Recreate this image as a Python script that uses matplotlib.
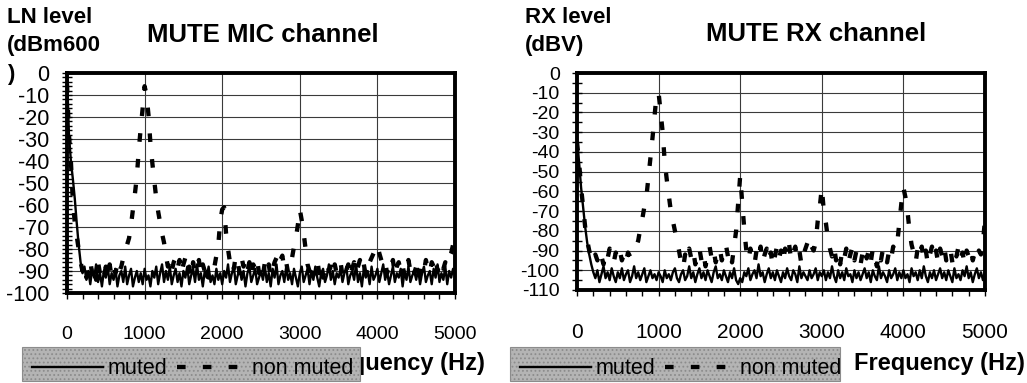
import numpy as np
import matplotlib
matplotlib.use("Agg")
import matplotlib.pyplot as plt
from matplotlib.lines import Line2D
from matplotlib.patches import Rectangle
from matplotlib.ticker import MultipleLocator

plt.rcParams["font.family"] = ["Liberation Sans", "DejaVu Sans"]
plt.rcParams["axes.unicode_minus"] = False
plt.rcParams["hatch.color"] = "#7e7e7e"
plt.rcParams["hatch.linewidth"] = 0.8

# one reading every 25 Hz, 0..5000 Hz
freq = np.arange(0, 5001, 25)

# MUTE MIC channel, LN level (dBm600)
mic_muted = [
    0, -28, -40, -48, -57, -68, -78, -86, -91, -88, -94, -90, -96, -89, -93, -87, -95, -91, -97, -90,
    -93, -88, -96, -91, -94, -89, -97, -92, -90, -95, -88, -96, -92, -89, -97, -93, -90, -95, -91, -96,
    -89, -94, -92, -97, -90, -93, -88, -96, -91, -87, -95, -90, -94, -88, -96, -92, -89, -95, -91, -97,
    -90, -93, -88, -96, -92, -89, -95, -87, -94, -91, -97, -90, -93, -88, -95, -92, -96, -89, -94, -91,
    -96, -90, -93, -87, -95, -91, -88, -96, -92, -89, -94, -90, -97, -91, -88, -95, -92, -89, -96, -93,
    -90, -94, -88, -95, -91, -97, -89, -93, -87, -96, -92, -90, -95, -88, -94, -91, -96, -89, -93, -97,
    -91, -88, -95, -92, -89, -96, -90, -94, -88, -93, -97, -91, -89, -95, -92, -87, -94, -90, -96, -91,
    -93, -89, -95, -91, -88, -96, -92, -90, -94, -87, -95, -91, -97, -89, -93, -90, -96, -88, -94, -92,
    -89, -95, -91, -87, -94, -90, -96, -92, -88, -95, -91, -93, -89, -97, -90, -94, -88, -95, -92, -90,
    -94, -89, -96, -91, -88, -95, -92, -90, -96, -89, -93, -87, -95, -91, -94, -88, -96, -90, -93, -89,
    -92,
]
mic_open = [
    -5, -28, -40, -58, -68, -74, -80, -86, -90, -87, -93, -89, -85, -92, -88, -94, -86, -91, -89, -93,
    -88, -92, -87, -93, -89, -91, -86, -90, -88, -84, -81, -78, -75, -69, -62, -55, -47, -35, -25, -16,
    -6, -10, -19, -32, -41, -49, -57, -63, -68, -73, -77, -83, -88, -85, -90, -86, -84, -89, -85, -91,
    -87, -84, -90, -88, -93, -86, -91, -88, -85, -92, -87, -90, -86, -93, -89, -87, -88, -83, -78, -67,
    -62, -61, -73, -80, -86, -84, -89, -83, -86, -91, -84, -88, -85, -90, -86, -92, -87, -89, -85, -91,
    -88, -92, -86, -90, -87, -93, -89, -86, -84, -88, -85, -83, -89, -86, -91, -88, -84, -79, -75, -69,
    -62, -67, -73, -80, -87, -90, -86, -92, -88, -85, -91, -87, -93, -89, -86, -90, -88, -92, -87, -91,
    -89, -86, -92, -88, -90, -87, -93, -89, -86, -91, -88, -85, -90, -87, -92, -88, -86, -84, -82, -80,
    -78, -82, -85, -88, -86, -91, -87, -89, -85, -92, -88, -86, -90, -87, -93, -88, -85, -90, -87, -91,
    -88, -86, -92, -87, -90, -85, -89, -91, -86, -88, -84, -90, -87, -85, -89, -86, -88, -84, -82, -78,
    -73,
]

# MUTE RX channel, RX level (dBV)
rx_muted = [
    -33, -45, -58, -68, -78, -86, -92, -97, -101, -104, -100, -106, -102, -98, -104, -101, -105, -99, -103, -106,
    -101, -104, -99, -105, -102, -100, -106, -103, -98, -104, -101, -105, -102, -99, -106, -103, -100, -104, -102, -105,
    -101, -103, -106, -100, -104, -102, -105, -101, -99, -104, -106, -102, -100, -105, -103, -98, -104, -101, -106, -102,
    -99, -104, -101, -105, -100, -103, -106, -101, -98, -104, -102, -105, -100, -103, -106, -101, -104, -99, -105, -107,
    -104, -106, -101, -103, -99, -105, -102, -100, -104, -97, -103, -101, -106, -102, -99, -104, -101, -105, -100, -103,
    -106, -101, -104, -99, -103, -105, -100, -102, -106, -98, -104, -101, -103, -105, -100, -104, -102, -99, -105, -101,
    -103, -100, -105, -101, -104, -98, -103, -106, -100, -104, -101, -105, -99, -103, -102, -106, -100, -104, -101, -105,
    -102, -99, -104, -101, -106, -100, -103, -105, -98, -104, -101, -103, -106, -100, -104, -102, -99, -105, -101, -104,
    -100, -104, -102, -106, -99, -103, -101, -105, -100, -104, -98, -103, -106, -101, -104, -100, -105, -102, -99, -104,
    -101, -105, -100, -103, -106, -99, -104, -102, -105, -100, -103, -98, -104, -101, -106, -102, -99, -104, -101, -105,
    -100,
]
rx_open = [
    -35, -45, -58, -68, -78, -85, -90, -94, -96, -92, -95, -90, -93, -97, -91, -94, -89, -93, -96, -91,
    -94, -90, -95, -92, -96, -91, -93, -90, -90, -88, -85, -79, -74, -68, -63, -53, -43, -33, -22, -11,
    -10, -20, -30, -45, -54, -62, -70, -75, -80, -85, -90, -96, -99, -92, -95, -89, -94, -90, -97, -92,
    -89, -95, -91, -98, -93, -88, -94, -90, -96, -92, -89, -95, -91, -87, -93, -90, -96, -88, -80, -66,
    -52, -66, -79, -90, -95, -89, -93, -97, -90, -94, -88, -96, -92, -89, -95, -91, -98, -93, -88, -94,
    -90, -96, -89, -93, -87, -95, -91, -88, -94, -90, -97, -92, -89, -86, -91, -88, -90, -86, -75, -68,
    -58, -70, -76, -84, -89, -93, -88, -95, -91, -97, -90, -94, -89, -96, -92, -88, -95, -90, -93, -97,
    -91, -88, -94, -90, -96, -89, -93, -98, -91, -95, -89, -92, -96, -90, -94, -88, -90, -86, -76, -66,
    -58, -63, -70, -80, -87, -91, -96, -89, -93, -88, -95, -90, -97, -92, -88, -94, -90, -96, -89, -93,
    -88, -95, -91, -89, -96, -90, -93, -88, -94, -91, -97, -90, -93, -89, -95, -91, -94, -90, -92, -86,
    -74,
]

W, H = 1027, 383
fig = plt.figure(figsize=(W / 100, H / 100), dpi=100)


def box(x0, y0, x1, y1):
    # pixel box (top-left origin) -> figure fraction rect
    return [x0 / W, 1 - y1 / H, (x1 - x0) / W, (y1 - y0) / H]


ax1 = fig.add_axes(box(67, 73, 455, 293))
ax2 = fig.add_axes(box(577, 73, 985, 290))

dash = (2, 4)


def draw(ax, muted, opened, ymin, yminor, ysize, xsize):
    ax.plot(freq, muted, color="black", lw=1.7, zorder=3)
    ax.plot(freq, opened, color="black", lw=3.1, dashes=dash, zorder=2)
    ax.set_xlim(0, 5000)
    ax.set_ylim(ymin, 0)
    ax.xaxis.set_major_locator(MultipleLocator(1000))
    ax.xaxis.set_minor_locator(MultipleLocator(200))
    ax.yaxis.set_major_locator(MultipleLocator(10))
    ax.yaxis.set_minor_locator(MultipleLocator(yminor))
    ax.grid(True, which="major", color="#3a3a3a", lw=0.8)
    for s in ax.spines.values():
        s.set_linewidth(2.8)
    ax.tick_params(axis="x", which="both", direction="out", length=4, width=1)
    ax.tick_params(axis="x", which="major", pad=20, labelsize=xsize)
    ax.tick_params(axis="y", which="both", direction="inout", length=7, width=1)
    ax.tick_params(axis="y", which="major", pad=9, labelsize=ysize)


draw(ax1, mic_muted, mic_open, -100, 2, 15.5, 14)
draw(ax2, rx_muted, rx_open, -110, 5, 14, 15)

# titles and unit labels
fig.text(263 / W, 1 - 42 / H, "MUTE MIC channel", ha="center", va="baseline",
         fontsize=18.5, fontweight="bold")
fig.text(816 / W, 1 - 41 / H, "MUTE RX channel", ha="center", va="baseline",
         fontsize=18.5, fontweight="bold")
for x0, lines in [(7, ["LN level", "(dBm600", ")"]), (525, ["RX level", "(dBV)"])]:
    for i, t in enumerate(lines):
        fig.text(x0 / W, 1 - (23 + 28.5 * i) / H, t, ha="left", va="baseline",
                 fontsize=16, fontweight="bold")

fig.text(485 / W, 1 - 370 / H, "Frequency (Hz)", ha="right", va="baseline",
         fontsize=17, fontweight="bold")
fig.text(1025 / W, 1 - 370 / H, "Frequency (Hz)", ha="right", va="baseline",
         fontsize=17, fontweight="bold")

# gray legend boxes (the left one covers part of its axis label, as in the original)
handles = [Line2D([], [], color="black", lw=1.7),
           Line2D([], [], color="black", lw=3.1, dashes=dash)]
for x0, x1 in [(22, 360), (510, 840)]:
    r = Rectangle((x0 / W, 1 - 381 / H), (x1 - x0) / W, 34 / H, transform=fig.transFigure,
                  facecolor="#b4b4b4", edgecolor="#8c8c8c", hatch="....", lw=0.8, zorder=4)
    fig.patches.append(r)
    leg = fig.legend(handles, ["muted", "non muted"], loc="center left",
                     bbox_to_anchor=((x0 + 10) / W, 1 - 369 / H), ncol=2, fontsize=15.5,
                     frameon=False, handlelength=3.3, handletextpad=0.2,
                     columnspacing=0.45, borderpad=0, borderaxespad=0)
    leg.set_zorder(5)

fig.savefig("out.png", dpi=100)
